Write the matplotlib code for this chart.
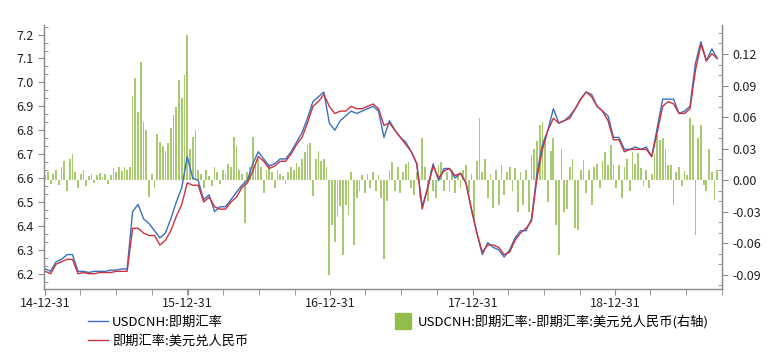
import numpy as np
import pandas as pd
import matplotlib
matplotlib.use('Agg')
import matplotlib.pyplot as plt
import matplotlib.dates as mdates
from matplotlib.ticker import MultipleLocator, AutoMinorLocator, FormatStrFormatter
from matplotlib.lines import Line2D

plt.rcParams['font.family'] = ['Noto Sans CJK SC', 'DejaVu Sans']
plt.rcParams['axes.unicode_minus'] = False

# biweekly spot rates, starting 2014-12-31
cny = [6.21, 6.20, 6.24, 6.25, 6.26, 6.26, 6.20, 6.205, 6.20, 6.20,
       6.205, 6.205, 6.205, 6.21, 6.21, 6.21, 6.39, 6.39, 6.37, 6.36,
       6.36, 6.32, 6.34, 6.38, 6.44, 6.49, 6.58, 6.57, 6.57, 6.50,
       6.52, 6.48, 6.47, 6.47, 6.50, 6.52, 6.56, 6.58, 6.63, 6.69,
       6.67, 6.64, 6.65, 6.67, 6.67, 6.70, 6.74, 6.77, 6.83, 6.90,
       6.92, 6.95, 6.90, 6.87, 6.88, 6.88, 6.90, 6.89, 6.89, 6.90,
       6.91, 6.89, 6.82, 6.83, 6.80, 6.77, 6.74, 6.71, 6.66, 6.47,
       6.56, 6.65, 6.60, 6.63, 6.64, 6.61, 6.62, 6.58, 6.47, 6.37,
       6.29, 6.32, 6.32, 6.31, 6.28, 6.29, 6.34, 6.37, 6.39, 6.42,
       6.60, 6.72, 6.80, 6.85, 6.83, 6.84, 6.85, 6.89, 6.93, 6.96,
       6.94, 6.90, 6.88, 6.84, 6.76, 6.76, 6.71, 6.72, 6.72, 6.72,
       6.72, 6.69, 6.79, 6.90, 6.92, 6.91, 6.87, 6.87, 6.89, 7.05,
       7.16, 7.09, 7.12, 7.10]

cnh = [6.22, 6.21, 6.25, 6.26, 6.28, 6.28, 6.21, 6.21, 6.205, 6.21,
       6.21, 6.21, 6.215, 6.215, 6.22, 6.22, 6.46, 6.49, 6.43, 6.41,
       6.38, 6.35, 6.37, 6.43, 6.50, 6.56, 6.69, 6.60, 6.59, 6.51,
       6.53, 6.46, 6.48, 6.48, 6.51, 6.54, 6.57, 6.59, 6.66, 6.71,
       6.68, 6.65, 6.66, 6.68, 6.68, 6.71, 6.75, 6.79, 6.85, 6.92,
       6.94, 6.96, 6.83, 6.80, 6.84, 6.86, 6.88, 6.87, 6.88, 6.89,
       6.90, 6.88, 6.77, 6.84, 6.80, 6.77, 6.75, 6.71, 6.66, 6.48,
       6.56, 6.66, 6.59, 6.64, 6.64, 6.60, 6.62, 6.58, 6.47, 6.37,
       6.28, 6.33, 6.31, 6.30, 6.27, 6.30, 6.35, 6.38, 6.38, 6.43,
       6.62, 6.74, 6.80, 6.89, 6.83, 6.84, 6.86, 6.89, 6.93, 6.96,
       6.95, 6.90, 6.88, 6.86, 6.77, 6.77, 6.72, 6.72, 6.73, 6.72,
       6.73, 6.69, 6.81, 6.93, 6.93, 6.93, 6.87, 6.88, 6.90, 7.08,
       7.17, 7.09, 7.14, 7.10]

# weekly spread CNH - CNY (right axis), starting 2014-12-31
spread = [0.005, 0.008, -0.004, 0.006, 0.010, -0.005, 0.012, 0.018, -0.010, 0.020,
          0.025, 0.008, -0.008, 0.006, 0.010, -0.006, 0.004, 0.006, -0.003, 0.005,
          0.007, 0.003, 0.006, -0.004, 0.005, 0.011, 0.008, 0.012, 0.009, 0.012,
          0.010, 0.012, 0.080, 0.097, 0.065, 0.112, 0.055, 0.048, -0.016, 0.006,
          -0.008, 0.044, 0.036, 0.032, 0.028, 0.035, 0.050, 0.062, 0.070, 0.095,
          0.078, 0.100, 0.138, 0.030, 0.041, 0.048, 0.010, 0.006, -0.008, 0.010,
          0.004, -0.006, 0.012, 0.008, -0.004, 0.010, 0.006, 0.015, 0.012, 0.041,
          0.032, 0.010, 0.006, -0.041, 0.008, 0.012, 0.041, 0.015, 0.020, 0.012,
          -0.012, 0.010, 0.015, 0.008, -0.008, 0.010, 0.006, 0.004, -0.004, 0.008,
          0.012, 0.010, 0.016, 0.012, 0.020, 0.027, 0.033, 0.035, -0.015, 0.020,
          0.028, 0.018, 0.020, 0.012, -0.090, -0.043, -0.059, -0.035, -0.025, -0.071,
          -0.024, -0.033, 0.008, -0.062, -0.017, -0.010, 0.005, -0.012, 0.006, -0.008,
          0.008, -0.010, 0.005, -0.017, -0.075, -0.020, 0.010, 0.017, -0.010, 0.012,
          -0.012, 0.008, 0.015, 0.017, -0.008, -0.014, 0.008, -0.017, 0.040, 0.012,
          -0.020, 0.010, -0.010, -0.017, 0.014, 0.017, -0.010, 0.008, -0.011, 0.010,
          -0.012, 0.006, -0.008, 0.010, 0.014, -0.011, 0.006, -0.037, 0.018, 0.059,
          0.008, 0.020, -0.017, 0.006, -0.027, 0.010, -0.024, 0.014, -0.014, 0.008,
          0.012, -0.010, 0.011, -0.030, 0.008, -0.024, 0.010, -0.030, 0.024, 0.030,
          0.037, 0.052, 0.055, 0.041, -0.021, 0.028, 0.040, -0.043, -0.071, 0.030,
          -0.030, -0.028, 0.012, 0.020, -0.046, -0.048, 0.010, 0.019, -0.012, 0.010,
          -0.024, 0.012, 0.015, -0.008, 0.018, 0.027, 0.014, 0.033, 0.015, -0.008,
          0.014, -0.017, 0.012, 0.020, -0.010, 0.027, 0.015, 0.026, 0.011, -0.006,
          0.010, -0.008, 0.006, 0.025, 0.043, 0.038, 0.040, 0.030, 0.014, 0.014,
          -0.024, 0.008, 0.012, -0.006, 0.009, 0.005, 0.059, 0.052, -0.052, 0.040,
          0.052, -0.005, -0.010, 0.030, 0.008, -0.019, 0.010]

line_dates = pd.date_range('2014-12-31', periods=len(cny), freq='14D')
bar_dates = pd.date_range('2014-12-31', periods=len(spread), freq='7D')

labels = ['USDCNH:即期汇率', '即期汇率:美元兑人民币', 'USDCNH:即期汇率:-即期汇率:美元兑人民币(右轴)']
blue = '#3b6fc2'
red = '#cc3340'
green = '#93bd4a'
axis_grey = '#8c8c8c'

fig = plt.figure(figsize=(7.76, 3.61), dpi=100)
ax = fig.add_axes([0.0567, 0.1994, 0.8737, 0.7313])
ax2 = ax.twinx()

ax2.bar(bar_dates, spread, width=4.5, color=green, linewidth=0, alpha=0.8)
ax2.set_ylim(-0.1038, 0.1476)

ax.set_zorder(ax2.get_zorder() + 1)
ax.patch.set_visible(False)
ax.plot(line_dates, cnh, color=blue, lw=1.0)
ax.plot(line_dates, cny, color=red, lw=1.0)
ax.set_ylim(6.136, 7.240)
ax.set_xlim(pd.Timestamp('2014-12-28'), pd.Timestamp('2019-09-30'))

ax.xaxis.set_major_locator(mdates.YearLocator(month=12, day=31))
ax.xaxis.set_major_formatter(mdates.DateFormatter('%y-%m-%d'))
ax.xaxis.set_minor_locator(mdates.MonthLocator(bymonth=[3, 6, 9, 12], bymonthday=30))

ax.yaxis.set_major_locator(MultipleLocator(0.1))
ax.yaxis.set_minor_locator(AutoMinorLocator(3))
ax.yaxis.set_major_formatter(FormatStrFormatter('%.1f'))
ax2.yaxis.set_major_locator(MultipleLocator(0.03))
ax2.yaxis.set_minor_locator(AutoMinorLocator(3))
ax2.yaxis.set_major_formatter(FormatStrFormatter('%.2f'))

for a in (ax, ax2):
    for s in a.spines.values():
        s.set_color(axis_grey)
        s.set_linewidth(0.9)
    a.spines['top'].set_visible(False)
    a.tick_params(which='both', colors=axis_grey, labelcolor='#222222', labelsize=9)
    a.tick_params(which='major', length=4, direction='out')
    a.tick_params(which='minor', length=3, direction='in')
ax.tick_params(axis='x', which='minor', direction='out', length=4)
ax.tick_params(axis='x', pad=2)

handles = [Line2D([], [], color=blue, lw=1.0),
           Line2D([], [], color=red, lw=1.0),
           Line2D([], [], marker='s', ls='none', markersize=12, color=green)]
fig.legend(handles, labels, ncol=2, loc='upper left', bbox_to_anchor=(0.114, 0.128),
           frameon=False, fontsize=9.5, handlelength=1.5, handletextpad=0.3,
           columnspacing=11.0, labelspacing=0.45, borderaxespad=0, borderpad=0)

fig.savefig('out.png', dpi=100)
